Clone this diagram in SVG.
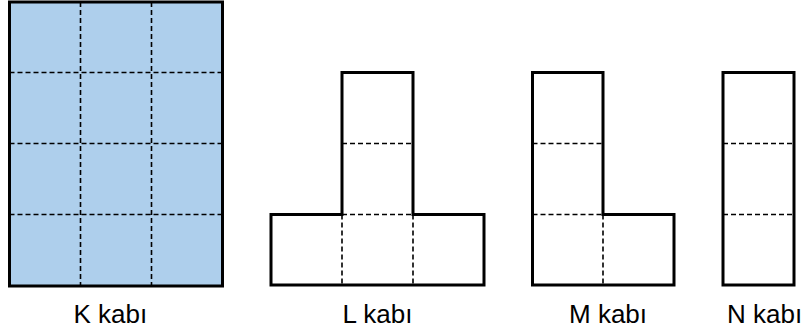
<svg xmlns="http://www.w3.org/2000/svg" width="808" height="335" viewBox="0 0 808 335">
<style>
.outline{fill:none;stroke:#000;stroke-width:3;stroke-linejoin:miter}
.dash{fill:none;stroke:#000;stroke-width:1.6;stroke-dasharray:5 3}
.lbl{font-family:"Liberation Sans",Arial,sans-serif;font-size:26px;fill:#000}
</style>
<rect width="808" height="335" fill="#fff"/>
<g id="K">
<rect x="9.5" y="2" width="213" height="284" fill="#aecfec"/>
<path class="dash" d="M80.5 2V286M151.5 2V286M9.5 72.5H222.5M9.5 143.5H222.5M9.5 214.5H222.5"/>
<rect class="outline" x="9.5" y="2" width="213" height="284"/>
<text class="lbl" x="73.5" y="322.5">K kabı</text>
</g>
<g id="L">
<path class="dash" d="M342 143.5H413M342 214.5H413M342 214.5V285M413 214.5V285"/>
<path class="outline" d="M342 72.5H413V214.5H484V285H271V214.5H342Z"/>
<text class="lbl" x="342.5" y="322.5">L kabı</text>
</g>
<g id="M">
<path class="dash" d="M532.5 143.5H603M532.5 214.5H603M603 214.5V285"/>
<path class="outline" d="M532.5 72.5H603V214.5H674V285H532.5Z"/>
<text class="lbl" x="569" y="322.5">M kabı</text>
</g>
<g id="N">
<path class="dash" d="M723 143.5H794M723 214.5H794"/>
<rect class="outline" x="723" y="72.5" width="71" height="212.5"/>
<text class="lbl" x="727" y="322.5">N kabı</text>
</g>
</svg>
